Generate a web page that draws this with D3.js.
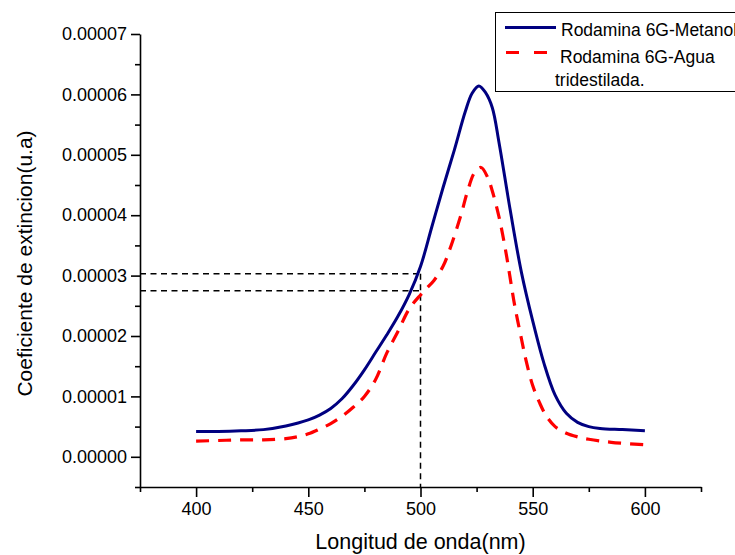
<!DOCTYPE html>
<html>
<head>
<meta charset="utf-8">
<script src="https://cdn.jsdelivr.net/npm/d3@7"></script>
<style>
  html, body { margin: 0; padding: 0; background: #fff; overflow: hidden; }
  svg { display: block; font-family: "Liberation Sans", Arial, sans-serif; }
</style>
</head>
<body>
<div id="chart"></div>
<script>
/* ---------------- DATA (values in units of 1e-5) ---------------- */
const metanolNm  = [400, 410, 420, 430, 440, 450, 455, 460, 465, 470, 475, 480, 485, 490, 495, 500,
                    505, 510, 515, 520, 523, 526, 529, 532, 535, 540, 545, 550, 555, 560, 565, 570,
                    575, 580, 590, 600];
const metanolVal = [0.42, 0.42, 0.43, 0.45, 0.51, 0.61, 0.69, 0.80, 0.96, 1.18, 1.44, 1.73, 2.02, 2.33, 2.69, 3.15,
                    3.80, 4.45, 5.07, 5.72, 6.02, 6.14, 6.03, 5.78, 5.20, 4.08, 3.05, 2.25, 1.55, 1.02, 0.72, 0.57,
                    0.50, 0.47, 0.45, 0.43];

const aguaNm  = [400, 410, 420, 430, 440, 445, 450, 455, 460, 465, 470, 475, 480, 485, 490, 495, 500,
                 503, 506, 510, 513, 518, 521, 524, 527, 530, 532, 535, 538, 540, 542, 545, 547,
                 550, 553, 556, 560, 565, 570, 575, 585, 600];
const aguaVal = [0.26, 0.27, 0.28, 0.28, 0.30, 0.33, 0.38, 0.46, 0.55, 0.67, 0.82, 1.00, 1.28, 1.72, 2.08, 2.45, 2.68,
                 2.80, 2.92, 3.15, 3.43, 4.00, 4.40, 4.70, 4.79, 4.62, 4.40, 3.97, 3.40, 2.95, 2.50, 1.95, 1.60,
                 1.18, 0.90, 0.68, 0.50, 0.39, 0.33, 0.29, 0.24, 0.20];

const seriesNames = ["Rodamina 6G-Metanol", "Rodamina 6G-Agua", "tridestilada."];
const xMajorTicks = [400, 450, 500, 550, 600];
const xMinorTicks = [375, 425, 475, 525, 575, 625];
const yMajorTicks = [0, 1, 2, 3, 4, 5, 6, 7];
const yMinorTicks = [-0.5, 0.5, 1.5, 2.5, 3.5, 4.5, 5.5, 6.5];
const guideX  = 500;           // vertical guide (nm)
const guideY  = [3.03, 2.75];  // horizontal guides (1e-5)

/* ---------------- LAYOUT ---------------- */
const W = 735, H = 555,
      M = {top: 34, right: 34, bottom: 68, left: 140},
      IW = W - M.left - M.right, IH = H - M.top - M.bottom;
const FONT = 18;

const svg = d3.select("#chart").append("svg")
    .attr("width", W).attr("height", H);

const g = svg.append("g").attr("transform", `translate(${M.left},${M.top})`);

const x = d3.scaleLinear().domain([375, 625]).range([0, IW]);
const y = d3.scaleLinear().domain([-0.5, 7]).range([IH, 0]);

/* guides (drawn under the curves) */
const guides = g.append("g")
    .attr("fill", "none").attr("stroke", "#000")
    .attr("stroke-width", 1.5).attr("stroke-dasharray", "6,4.5");
guides.selectAll("line.h").data(guideY).join("line").attr("class", "h")
    .attr("x1", 0).attr("x2", x(guideX))
    .attr("y1", d => y(d)).attr("y2", d => y(d));
guides.append("line")
    .attr("x1", x(guideX)).attr("x2", x(guideX))
    .attr("y1", y(guideY[0])).attr("y2", IH);

/* axes */
g.append("g").attr("transform", `translate(0,${IH})`)
    .call(d3.axisBottom(x).tickValues(xMajorTicks).tickSize(10).tickPadding(5)
          .tickFormat(d3.format("d")).tickSizeOuter(0));
g.append("g").attr("transform", `translate(0,${IH})`)
    .call(d3.axisBottom(x).tickValues(xMinorTicks).tickSize(5).tickFormat("").tickSizeOuter(0))
    .select(".domain").remove();

g.append("g")
    .call(d3.axisLeft(y).tickValues(yMajorTicks).tickSize(9).tickPadding(4)
          .tickFormat(d => (d * 1e-5).toFixed(5)).tickSizeOuter(0));
g.append("g")
    .call(d3.axisLeft(y).tickValues(yMinorTicks).tickSize(5).tickFormat("").tickSizeOuter(0))
    .select(".domain").remove();

g.selectAll(".domain, .tick line").attr("stroke", "#000").attr("stroke-width", 1.6);
g.selectAll(".tick text").attr("fill", "#000")
    .style("font-size", FONT + "px").style("font-family", "'Liberation Sans', Arial, sans-serif");

/* axis titles */
g.append("text")
    .attr("x", IW / 2).attr("y", IH + 62)
    .attr("text-anchor", "middle")
    .style("font-size", "21.5px")
    .text("Longitud de onda(nm)");
g.append("text")
    .attr("transform", "rotate(-90)")
    .attr("x", -IH / 2 - 3).attr("y", 32 - M.left)
    .attr("text-anchor", "middle")
    .style("font-size", "21px")
    .text("Coeficiente de extincion(u.a)");

/* curves */
const line = d3.line().curve(d3.curveCatmullRom.alpha(0.5))
    .x(d => x(d[0])).y(d => y(d[1]));

g.append("path")
    .datum(d3.zip(aguaNm, aguaVal))
    .attr("fill", "none").attr("stroke", "#ff0000")
    .attr("stroke-width", 3.2).attr("stroke-dasharray", "13,9")
    .attr("d", line);

g.append("path")
    .datum(d3.zip(metanolNm, metanolVal))
    .attr("fill", "none").attr("stroke", "#000080")
    .attr("stroke-width", 3)
    .attr("d", line);

/* legend (runs off the right edge like the original) */
const leg = svg.append("g");
leg.append("rect")
    .attr("x", 495.5).attr("y", 12.5).attr("width", 270).attr("height", 79)
    .attr("fill", "#fff").attr("stroke", "#000").attr("stroke-width", 1);
leg.append("line")
    .attr("x1", 505).attr("x2", 556).attr("y1", 27.5).attr("y2", 27.5)
    .attr("stroke", "#000080").attr("stroke-width", 3);
leg.append("line")
    .attr("x1", 506).attr("x2", 549).attr("y1", 52.5).attr("y2", 52.5)
    .attr("stroke", "#ff0000").attr("stroke-width", 3).attr("stroke-dasharray", "13,15");
leg.selectAll("text").data(seriesNames).join("text")
    .attr("x", (d, i) => [561, 560, 555][i])
    .attr("y", (d, i) => [35.5, 62.5, 86][i])
    .style("font-size", "17.5px")
    .text(d => d);
</script>
</body>
</html>
